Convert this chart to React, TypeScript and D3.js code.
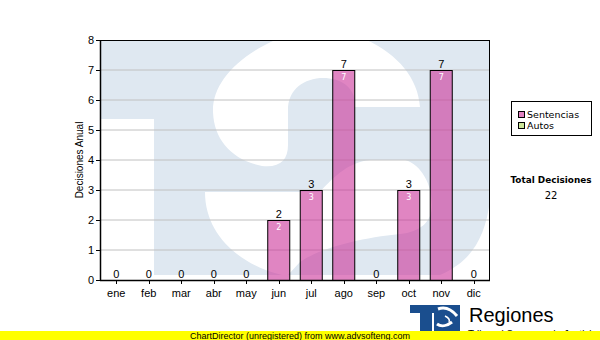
import React from "react";
import * as d3 from "d3";

const months = ["ene", "feb", "mar", "abr", "may", "jun", "jul", "ago", "sep", "oct", "nov", "dic"];
const sentencias = [0, 0, 0, 0, 0, 2, 3, 7, 0, 3, 7, 0];
const autos = [0, 0, 0, 0, 0, 0, 0, 0, 0, 0, 0, 0];
const yTicks = [0, 1, 2, 3, 4, 5, 6, 7, 8];
const seriesNames = ["Sentencias", "Autos"];
const seriesColors = ["#e080c0", "#cce699"];
const yTitle = "Decisiones Anual";
const totalLabel = "Total Decisiones";

const W = 600, H = 340;
const plot = { left: 100, right: 490, top: 40, bottom: 280 };
const WM = "#dfe8f1";
const ARIAL = "'Liberation Sans', Arial, sans-serif";
const VERD = "'DejaVu Sans', Verdana, sans-serif";

export default function App() {
  const x = d3.scaleBand<string>().domain(months).range([plot.left, plot.right]).paddingInner(0.292).paddingOuter(0.146);
  const y = d3.scaleLinear().domain([0, 8]).range([plot.bottom, plot.top]);
  const totals = months.map((_, i) => sentencias[i] + autos[i]);
  const grand = d3.sum(totals);
  const stack = d3.stack<any>().keys(["s", "a"])(months.map((m, i) => ({ m, s: sentencias[i], a: autos[i] })));

  return (
    <svg width={W} height={H} style={{ position: "absolute", left: 0, top: 0, display: "block", background: "#fff" }}>
      <rect x={0} y={0} width={W} height={H} fill="#fff" />
      {/* watermark */}
      <g>
        <rect x={plot.left} y={plot.top} width={plot.right - plot.left} height={275 - plot.top} fill={WM} />
        <rect x={plot.left} y={119} width={54} height={156} fill="#fff" />
        <path fill="#fff" d="M275,40 C235,58 212,85 213,112 C214,140 232,160 262,166 C280,168 288,160 288,145 L288,110 C288,92 300,80 320,78 C340,77 352,86 355,100 L355,107 L420,107 C418,78 398,55 367,40 Z" />
        <path fill="#fff" d="M205,192 L320,192 C335,175 350,162 370,160 L405,160 C422,165 432,185 432,205 C432,222 420,232 400,234 C360,238 320,248 300,262 L288,275 L282,275 C240,265 205,235 205,192 Z" />
        <path fill="#fff" d="M490,200 C485,240 470,262 440,275 L490,275 Z" />
      </g>
      {/* grid */}
      {yTicks.filter(t => t > 0 && t < 8).map(t => (
        <line key={t} x1={plot.left} x2={plot.right} y1={y(t)} y2={y(t)} stroke="#c0c0c0" strokeWidth={1} />
      ))}
      {/* bars */}
      {stack.map((layer, si) => (
        <g key={si}>
          {layer.map((d, i) => d[1] - d[0] > 0 ? (
            <rect key={i} x={x(months[i])! + 0.5} y={y(d[1]) + 0.5} width={x.bandwidth() - 1} height={y(d[0]) - y(d[1])}
              fill={si === 0 ? "#cc3399" : "#99cc33"} fillOpacity={0.6} stroke="#000" strokeWidth={1} />
          ) : null)}
        </g>
      ))}
      {/* inside labels */}
      {sentencias.map((v, i) => v > 0 ? (
        <text key={i} x={x(months[i])! + x.bandwidth() / 2} y={y(v) + 10} textAnchor="middle" fontFamily={VERD} fontSize={8} fill="#fff">{v}</text>
      ) : null)}
      {/* total labels */}
      {totals.map((v, i) => (
        <text key={i} x={x(months[i])! + x.bandwidth() / 2} y={y(v) - 2} textAnchor="middle" fontFamily={ARIAL} fontSize={11} fill="#000">{v}</text>
      ))}
      {/* frame */}
      <line x1={plot.left} x2={plot.right} y1={plot.top + 0.5} y2={plot.top + 0.5} stroke="#000" />
      <line x1={plot.right - 0.5} x2={plot.right - 0.5} y1={plot.top} y2={plot.bottom} stroke="#000" />
      <line x1={plot.left + 0.5} x2={plot.left + 0.5} y1={plot.top} y2={plot.bottom + 1} stroke="#000" strokeWidth={1.5} />
      <line x1={plot.left} x2={plot.right} y1={plot.bottom + 0.5} y2={plot.bottom + 0.5} stroke="#000" strokeWidth={1.5} />
      {/* y ticks */}
      {yTicks.map(t => (
        <g key={t}>
          <line x1={96} x2={plot.left} y1={y(t) + 0.5} y2={y(t) + 0.5} stroke="#000" />
          <text x={94} y={y(t)} dy="0.35em" textAnchor="end" fontFamily={ARIAL} fontSize={11} fill="#000">{t}</text>
        </g>
      ))}
      {/* x ticks */}
      {months.map(m => (
        <g key={m}>
          <line x1={Math.round(x(m)! + x.bandwidth() / 2) + 0.5} x2={Math.round(x(m)! + x.bandwidth() / 2) + 0.5} y1={plot.bottom} y2={plot.bottom + 4} stroke="#000" />
          <text x={x(m)! + x.bandwidth() / 2} y={297} textAnchor="middle" fontFamily={ARIAL} fontSize={11} fill="#000">{m}</text>
        </g>
      ))}
      <text transform={`translate(83,160) rotate(-90)`} textAnchor="middle" fontFamily={ARIAL} fontSize={10} fill="#000">{yTitle}</text>
      {/* legend */}
      <rect x={511.5} y={101.5} width={80} height={34} fill="#fff" stroke="#000" />
      {seriesNames.map((n, i) => (
        <g key={n}>
          <rect x={518.5} y={111.5 + i * 11} width={6} height={6} fill={seriesColors[i]} stroke="#000" />
          <text x={527} y={118 + i * 11} fontFamily={VERD} fontSize={9.5} fill="#000">{n}</text>
        </g>
      ))}
      <text x={551} y={183} textAnchor="middle" fontFamily={VERD} fontSize={9.5} fontWeight="bold" textLength={81} lengthAdjust="spacingAndGlyphs" fill="#000">{totalLabel}</text>
      <text x={551} y={199} textAnchor="middle" fontFamily={VERD} fontSize={10} fill="#000">{grand}</text>
      {/* logo */}
      <g>
        <rect x={410} y={305} width={50} height={8} fill="#1a4e8e" />
        <rect x={420} y={313} width={12} height={18} fill="#1a4e8e" />
        <rect x={434} y={313} width={26} height={18} fill="#1a4e8e" />
        <path d="M438,309 C446,306 452,310 457,316" fill="none" stroke="#fff" strokeWidth={3} />
        <path d="M437,324 C441,327 447,326 452,322" fill="none" stroke="#fff" strokeWidth={3} />
        <path d="M445,316 C449,318 450,320 449,322" fill="none" stroke="#fff" strokeWidth={1.5} />
      </g>
      <text x={469} y={322} fontFamily={ARIAL} fontSize={20} fill="#000">Regiones</text>
      <text x={468} y={338} fontFamily={ARIAL} fontSize={10} fill="#000">Tribunal Supremo de Justicia</text>
      <rect x={0} y={331} width={W} height={9} fill="#ffff00" />
      <text x={300} y={339} textAnchor="middle" fontFamily={ARIAL} fontSize={9} textLength={220} lengthAdjust="spacingAndGlyphs" fill="#000">ChartDirector (unregistered) from www.advsofteng.com</text>
    </svg>
  );
}
